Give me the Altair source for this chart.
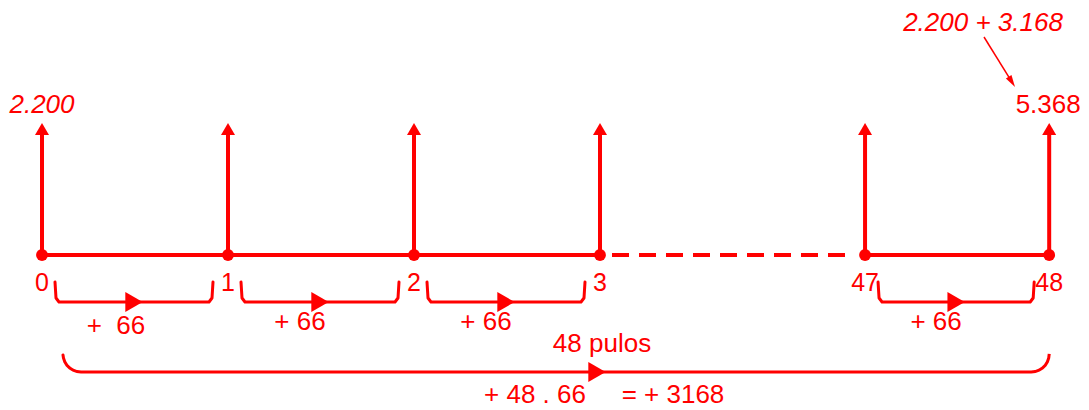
import altair as alt
import pandas as pd
import numpy as np

# ---------------- data ----------------
node_labels = ["0", "1", "2", "3", "47", "48"]
node_slots = [0, 1, 2, 3, 4.425, 5.415]          # position of each node along the line (in jump units)
jump_from = [0, 1, 2, 4]                           # index of node where each drawn jump starts
jump_labels = ["+\u00a0\u00a066", "+ 66", "+ 66", "+ 66"]
start_value = "2.200"
end_value = "5.368"
sum_text = "2.200 + 3.168"
jumps_text = "48 pulos"
product_text = "+ 48 . 66"
result_text = "= + 3168"

# ---------------- layout / style ----------------
RED = "#ff0000"
FONT = "Liberation Sans"
W, H = 1073, 400
X0, STEP = 42, 186
BASE_Y = 255
ARROW_TOP = 135
HEAD_Y = 129
LABEL_Y = 283
BR_TOP, BR_BOT = 282, 302
JUMP_Y = 322
BIG_TOP, BIG_Y, BIG_R = 355, 372, 18

node_x = [X0 + STEP * s for s in node_slots]

xs = alt.Scale(domain=[8, 8 + W], nice=False, zero=False)
ys = alt.Scale(domain=[8, 8 + H], reverse=True, nice=False, zero=False)


def X(f="x"):
    return alt.X(f"{f}:Q", scale=xs, axis=None)


def Y(f="y"):
    return alt.Y(f"{f}:Q", scale=ys, axis=None)


nodes = pd.DataFrame({"x": node_x, "label": node_labels, "y": BASE_Y,
                      "top": ARROW_TOP, "head": HEAD_Y, "ly": LABEL_Y})

# main line: solid parts and dashed gap
solid = pd.DataFrame({"x": [node_x[0], node_x[4]], "x2": [node_x[3], node_x[5]], "y": BASE_Y})
dashed = pd.DataFrame({"x": [node_x[3] + 12], "x2": [node_x[4] - 12], "y": BASE_Y})

solid_layer = alt.Chart(solid).mark_rule(color=RED, strokeWidth=4).encode(
    x=X(), x2="x2:Q", y=Y())
dash_layer = alt.Chart(dashed).mark_rule(color=RED, strokeWidth=4, strokeDash=[17, 10]).encode(
    x=X(), x2="x2:Q", y=Y())

shafts = alt.Chart(nodes).mark_rule(color=RED, strokeWidth=4).encode(
    x=X(), y=Y(), y2="top:Q")
heads = alt.Chart(nodes).mark_point(shape="triangle-up", size=196, filled=True,
                                    color=RED, opacity=1, strokeWidth=0).encode(
    x=X(), y=Y("head"))
dots = alt.Chart(nodes).mark_circle(size=140, color=RED, opacity=1).encode(x=X(), y=Y())
node_text = alt.Chart(nodes).mark_text(font=FONT, fontSize=25, color=RED,
                                       baseline="middle", align="center").encode(
    x=X(), y=Y("ly"), text="label:N")

# small brackets with arrows
br_rows, head_rows, lab_rows = [], [], []
for k, (i, lab) in enumerate(zip(jump_from, jump_labels)):
    xl = node_x[i] + 13
    xr = node_x[i + 1] - 15
    pts = [(xl, BR_TOP), (xl + 1, BR_BOT - 4), (xl + 4, BR_BOT), (xr - 4, BR_BOT),
           (xr - 1, BR_BOT - 4), (xr, BR_TOP)]
    for o, (px, py) in enumerate(pts):
        br_rows.append({"id": k, "o": o, "x": px, "y": py})
    mid = (xl + xr) / 2
    head_rows.append({"x": mid, "y": BR_BOT})
    lab_rows.append({"x": mid - 20 if k else mid - 18,
                     "y": JUMP_Y + (4 if k == 0 else 0), "label": lab})

brackets = alt.Chart(pd.DataFrame(br_rows)).mark_line(
    color=RED, strokeWidth=3, strokeJoin="round", strokeCap="round").encode(
    x=X(), y=Y(), detail="id:N", order="o:Q")
br_heads = alt.Chart(pd.DataFrame(head_rows)).mark_point(
    shape="triangle-right", size=400, filled=True, color=RED, opacity=1, strokeWidth=0).encode(
    x=X(), y=Y())
jump_text = alt.Chart(pd.DataFrame(lab_rows)).mark_text(
    font=FONT, fontSize=26, color=RED, baseline="middle", align="center").encode(
    x=X(), y=Y(), text="label:N")

# big bracket
bl = node_x[0] + 21
brr = node_x[5]
big = [(bl, BIG_TOP)]
for t in np.linspace(np.pi, np.pi / 2, 8)[1:]:
    big.append((bl + BIG_R + BIG_R * np.cos(t), BIG_Y - BIG_R + BIG_R * np.sin(t)))
for t in np.linspace(np.pi / 2, 0, 8):
    big.append((brr - BIG_R + BIG_R * np.cos(t), BIG_Y - BIG_R + BIG_R * np.sin(t)))
big.append((brr, BIG_TOP))
big_df = pd.DataFrame({"x": [p[0] for p in big], "y": [p[1] for p in big],
                       "o": list(range(len(big)))})
big_line = alt.Chart(big_df).mark_line(color=RED, strokeWidth=3, strokeCap="round").encode(
    x=X(), y=Y(), order="o:Q")
big_head = alt.Chart(pd.DataFrame({"x": [597], "y": [BIG_Y]})).mark_point(
    shape="triangle-right", size=400, filled=True, color=RED, opacity=1, strokeWidth=0).encode(
    x=X(), y=Y())

# texts
texts = pd.DataFrame({
    "label": [start_value, end_value, sum_text, jumps_text, product_text, result_text],
    "x": [node_x[0], node_x[5] - 1, 983, 602, 535, 673],
    "y": [105, 105, 23, 344, 395, 395],
    "style": ["italic", "normal", "italic", "normal", "normal", "normal"],
})
text_normal = alt.Chart(texts[texts["style"] == "normal"]).mark_text(
    font=FONT, fontSize=26, color=RED, baseline="middle", align="center").encode(
    x=X(), y=Y(), text="label:N")
text_italic = alt.Chart(texts[texts["style"] == "italic"]).mark_text(
    font=FONT, fontSize=26, fontStyle="italic", color=RED, baseline="middle", align="center").encode(
    x=X(), y=Y(), text="label:N")

# thin arrow from the sum to the final value
tip = (1015, 87)
start = (984, 37)
d = np.array(tip) - np.array(start)
u = d / np.linalg.norm(d)
hc = np.array(tip) - u * 6
thin = alt.Chart(pd.DataFrame({"x": [start[0]], "y": [start[1]],
                               "x2": [hc[0]], "y2": [hc[1]]})).mark_rule(
    color=RED, strokeWidth=1.5).encode(x=X(), y=Y(), x2="x2:Q", y2="y2:Q")
ang = float(np.degrees(np.arctan2(u[0], -u[1])))
thin_head = alt.Chart(pd.DataFrame({"x": [hc[0]], "y": [hc[1]]})).mark_point(
    shape="M0,-1L-0.55,1L0.55,1Z", size=144, filled=True, color=RED, opacity=1,
    strokeWidth=0, angle=ang % 360).encode(x=X(), y=Y())

chart = alt.layer(
    solid_layer, dash_layer, shafts, heads, dots, node_text,
    brackets, br_heads, jump_text, big_line, big_head,
    text_normal, text_italic, thin, thin_head,
).properties(
    width=W, height=H, autosize=alt.AutoSizeParams(type="none"), padding=0,
    background="white",
).configure_view(stroke=None)

chart.save("out.html", embed_options={"renderer": "svg", "actions": False})
